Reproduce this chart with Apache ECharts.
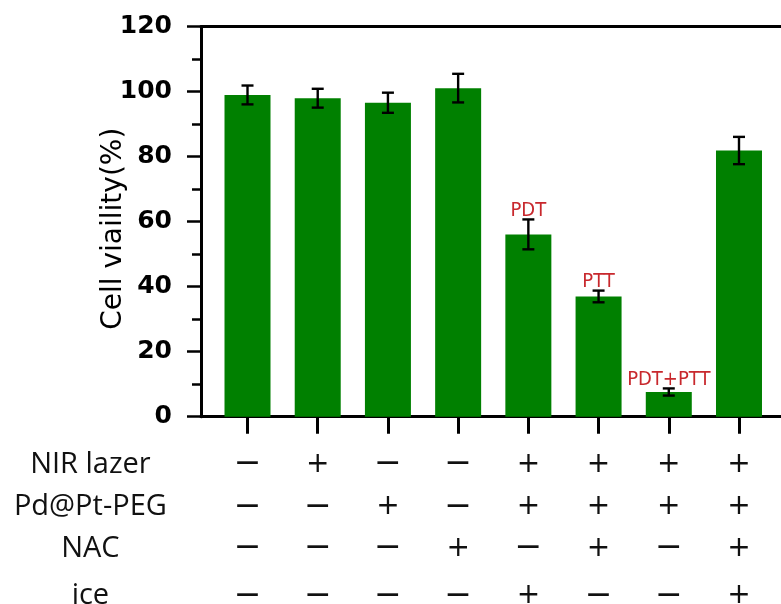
<!DOCTYPE html>
<html>
<head>
<meta charset="utf-8">
<script src="https://cdn.jsdelivr.net/npm/echarts@6/dist/echarts.min.js"></script>
<style>
html,body{margin:0;padding:0;background:#fff;}
#chart{width:781px;height:604px;}
</style>
</head>
<body>
<div id="chart"></div>
<script>
// ---- data ----
const groups = ['Control', 'NIR', 'Pd@Pt-PEG', 'NAC', 'NIR+Pd@Pt-PEG+ice', 'NIR+Pd@Pt-PEG+NAC', 'NIR+Pd@Pt-PEG', 'NIR+Pd@Pt-PEG+NAC+ice'];
const viability = [99.0, 98.0, 96.6, 101.1, 56.1, 37.0, 7.6, 81.9];
const errors = [2.9, 2.9, 3.1, 4.4, 4.6, 1.8, 1.1, 4.2];
const annotations = ['', '', '', '', 'PDT', 'PTT', 'PDT+PTT', ''];
const rowNames = ['NIR lazer', 'Pd@Pt-PEG', 'NAC', 'ice'];
const nirLazer = ['−', '+', '−', '−', '+', '+', '+', '+'];
const pdPtPeg  = ['−', '−', '+', '−', '+', '+', '+', '+'];
const nac      = ['−', '−', '−', '+', '−', '+', '−', '+'];
const ice      = ['−', '−', '−', '−', '+', '−', '−', '+'];
const yMin = 0, yMax = 120, yStep = 20;
const yTitle = 'Cell viaility(%)';

// ---- layout ----
const TOP = 26.7, BOTTOM = 187.3;
const rows = [nirLazer, pdPtPeg, nac, ice];
const rowOffsets = [48, 90.5, 132, 179.5];

const chart = echarts.init(document.getElementById('chart'), null, {renderer: 'canvas'});

const rowAxes = rows.map((signs, r) => ({
  gridIndex: 1, type: 'category', data: groups, position: 'bottom',
  offset: rowOffsets[r],
  axisLine: {show: false, onZero: false}, axisTick: {show: false}, splitLine: {show: false},
  axisLabel: {
    show: true, margin: 0, verticalAlign: 'middle', interval: 0, hideOverlap: false,
    formatter: (v, i) => signs[i] === '+' ? '{p|+}' : '{m|−}',
    rich: {
      p: {fontFamily: 'DejaVu Sans', fontSize: 28, color: '#111'},
      m: {fontFamily: 'DejaVu Sans', fontSize: 33, color: '#111'}
    }
  },
  name: rowNames[r], nameLocation: 'start', nameGap: 122, nameMoveOverlap: false,
  nameTextStyle: {fontFamily: 'Open Sans', fontSize: 29, color: '#111', align: 'center', verticalAlign: 'middle'}
}));

const option = {
  animation: false,
  backgroundColor: '#fff',
  grid: [
    {left: 201, right: 0, top: TOP, bottom: BOTTOM, containLabel: false, outerBoundsMode: 'none'},
    {left: 212.4, right: 6.9, top: TOP, bottom: BOTTOM, containLabel: false, outerBoundsMode: 'none'}
  ],
  xAxis: [
    {gridIndex: 0, type: 'value', min: 0, max: 1, position: 'bottom',
     axisLine: {show: true, onZero: false, lineStyle: {color: '#000', width: 3}},
     axisTick: {show: false}, axisLabel: {show: false}, splitLine: {show: false}},
    {gridIndex: 0, type: 'value', min: 0, max: 1, position: 'top',
     axisLine: {show: true, onZero: false, lineStyle: {color: '#000', width: 3}},
     axisTick: {show: false}, axisLabel: {show: false}, splitLine: {show: false}},
    {gridIndex: 1, type: 'category', data: groups, position: 'bottom',
     axisLine: {show: false, onZero: false},
     axisTick: {show: true, alignWithLabel: true, interval: 0, length: 17, lineStyle: {color: '#000', width: 3}},
     axisLabel: {show: false, interval: 0}, splitLine: {show: false}},
    ...rowAxes
  ],
  yAxis: [
    {gridIndex: 0, type: 'value', min: yMin, max: yMax, interval: yStep,
     axisLine: {show: true, onZero: false, lineStyle: {color: '#000', width: 3}},
     axisTick: {show: true, length: 14, lineStyle: {color: '#000', width: 2.5}},
     minorTick: {show: true, splitNumber: 2, length: 9, lineStyle: {color: '#000', width: 2.5}},
     axisLabel: {margin: 29, fontFamily: 'DejaVu Sans', fontWeight: 'bold', fontSize: 25, color: '#000'},
     splitLine: {show: false},
     name: yTitle, nameLocation: 'middle', nameGap: 73, nameRotate: 90, nameMoveOverlap: false,
     nameTextStyle: {fontFamily: 'DejaVu Sans', fontSize: 28, color: '#000', padding: [0, 14, 0, 0]}},
    {gridIndex: 1, type: 'value', min: yMin, max: yMax, interval: yStep, show: false}
  ],
  series: [
    {type: 'bar', xAxisIndex: 2, yAxisIndex: 1, data: viability, barWidth: 46, z: 2,
     itemStyle: {color: '#008000'}},
    {type: 'custom', xAxisIndex: 2, yAxisIndex: 1, z: 5,
     data: viability.map((v, i) => [i, v, errors[i]]),
     renderItem: (params, api) => {
       const i = api.value(0), m = api.value(1), e = api.value(2);
       const top = api.coord([i, m + e]);
       const bot = api.coord([i, m - e]);
       const hw = 6;
       const st = {stroke: '#000', lineWidth: 2.4};
       const children = [
         {type: 'line', shape: {x1: top[0], y1: top[1], x2: bot[0], y2: bot[1]}, style: st},
         {type: 'line', shape: {x1: top[0] - hw, y1: top[1], x2: top[0] + hw, y2: top[1]}, style: st},
         {type: 'line', shape: {x1: bot[0] - hw, y1: bot[1], x2: bot[0] + hw, y2: bot[1]}, style: st}
       ];
       const txt = annotations[params.dataIndex];
       if (txt) {
         children.push({type: 'text', style: {text: txt, x: top[0], y: top[1] - 9,
           fill: '#c8282d', font: '20px "Liberation Sans Narrow", "DejaVu Sans Condensed", "Open Sans"',
           align: 'center', verticalAlign: 'middle'}});
       }
       return {type: 'group', children};
     }}
  ]
};
chart.setOption(option);
</script>
</body>
</html>
